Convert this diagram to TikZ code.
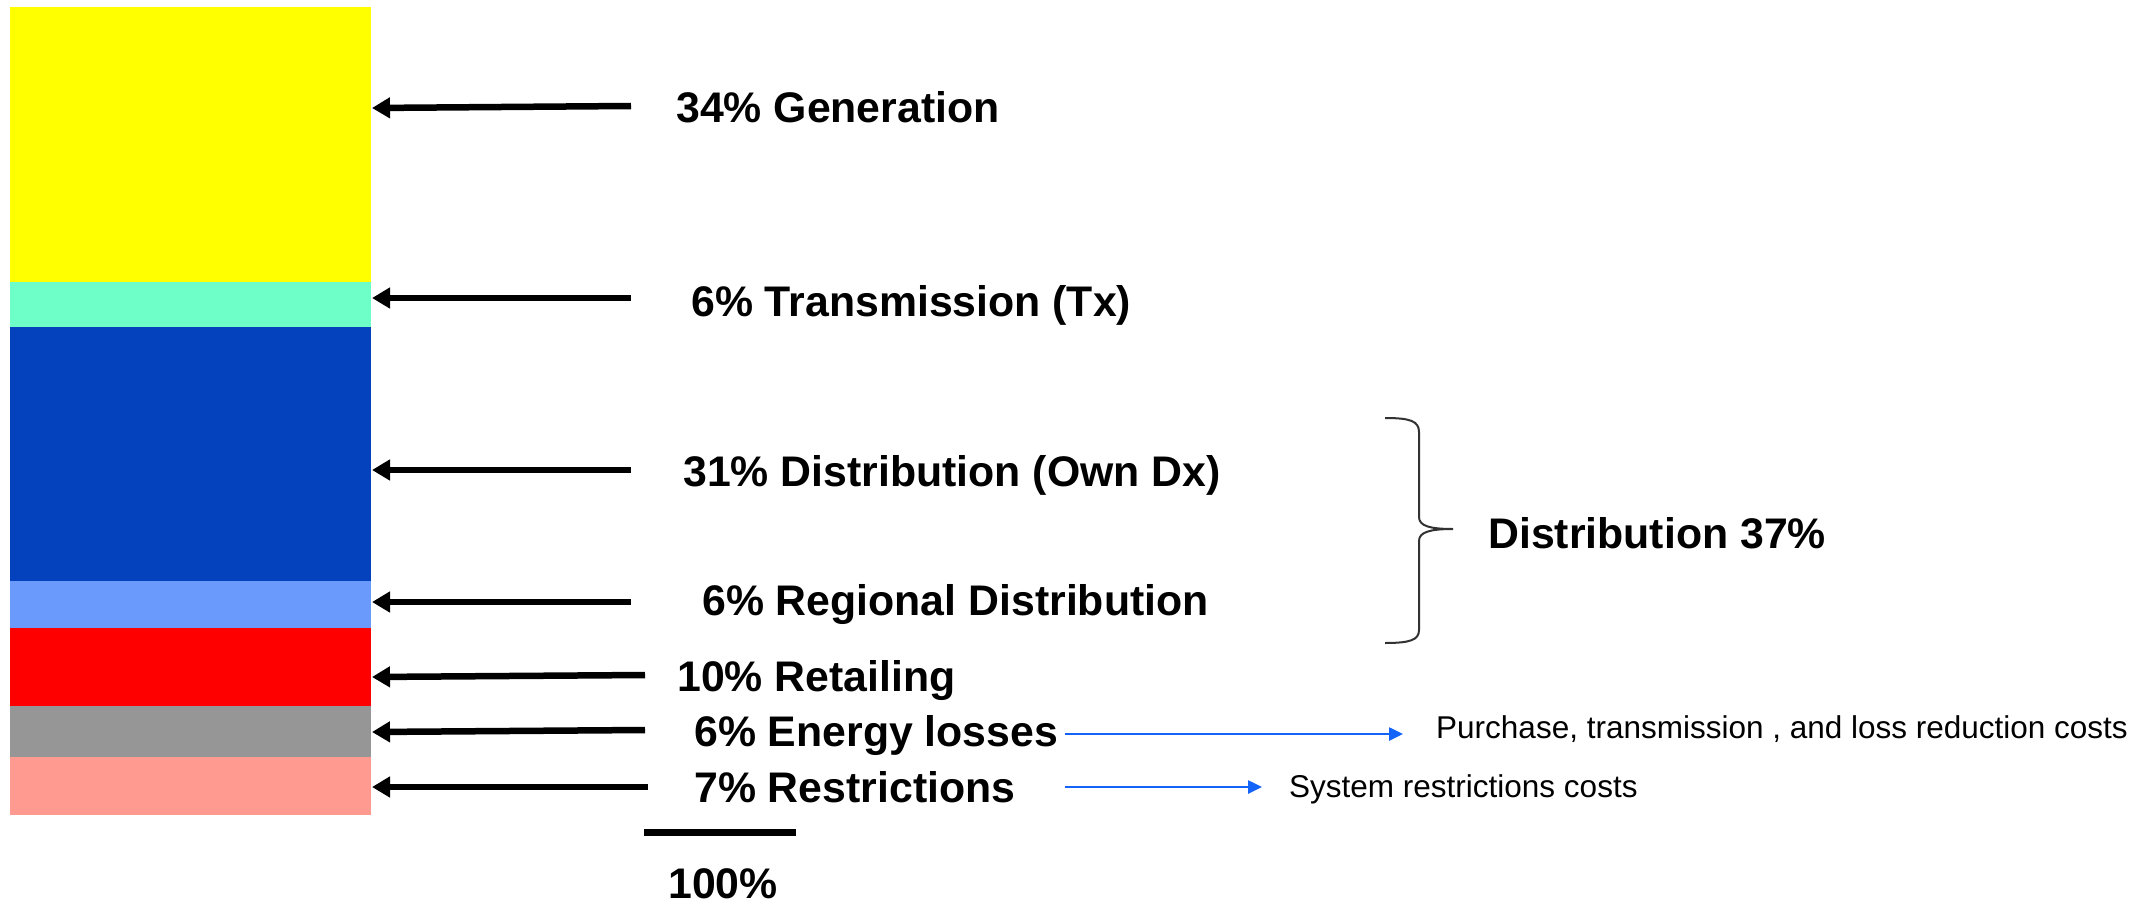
\documentclass[tikz,border=0pt]{standalone}
\usepackage{fontspec}
\setmainfont{Liberation Sans}
\usetikzlibrary{arrows.meta}
\definecolor{cgen}{RGB}{255,255,0}
\definecolor{ctx}{RGB}{110,255,200}
\definecolor{cdx}{RGB}{4,65,188}
\definecolor{creg}{RGB}{106,154,252}
\definecolor{cret}{RGB}{255,0,0}
\definecolor{closs}{RGB}{150,150,150}
\definecolor{cres}{RGB}{255,154,144}
\definecolor{cblue}{RGB}{20,100,250}
\definecolor{cbrace}{RGB}{50,50,50}
\begin{document}
\begin{tikzpicture}[x=1pt,y=-1pt,
  seg/.style={draw=none, inner sep=0pt, outer sep=0pt, minimum width=361pt, anchor=north west},
  big/.style={inner sep=0pt, anchor=base west, font=\fontsize{42.8}{50}\selectfont\bfseries},
  small/.style={inner sep=0pt, anchor=base west, font=\fontsize{31.5}{38}\selectfont},
  blk/.style={line width=6.5pt, -{Triangle[length=18pt,width=20pt]}},
  blu/.style={line width=2.5pt, draw=cblue, -{Triangle[length=14pt,width=13pt]}},
  brace/.style={line width=2pt, draw=cbrace}]
\useasboundingbox (0,0) rectangle (2154,904);
% bar segments
\node[seg, fill=cgen,  minimum height=275pt] (gen)  at (10,7) {};
\node[seg, fill=ctx,   minimum height=45pt]  (tx)   at (10,282) {};
\node[seg, fill=cdx,   minimum height=254pt] (dx)   at (10,327) {};
\node[seg, fill=creg,  minimum height=47pt]  (reg)  at (10,581) {};
\node[seg, fill=cret,  minimum height=78pt]  (ret)  at (10,628) {};
\node[seg, fill=closs, minimum height=51pt]  (loss) at (10,706) {};
\node[seg, fill=cres,  minimum height=58pt]  (res)  at (10,757) {};
% labels
\node[big] (lgen)  at (676,123) {34\% Generation};
\node[big] (ltx)   at (691,316) {6\% Transmission (Tx)};
\node[big] (ldx)   at (683,486) {31\% Distribution (Own Dx)};
\node[big] (lreg)  at (702,615) {6\% Regional Distribution};
\node[big] (lret)  at (677,691) {10\% Retailing};
\node[big] (lloss) at (694,746) {6\% Energy losses};
\node[big] (lres)  at (694,802) {7\% Restrictions};
\node[big] (ltot)  at (668,898) {100\%};
\node[big] (ldist) at (1488,548) {Distribution 37\%};
\node[small] (lpur) at (1436,738) {Purchase, transmission , and loss reduction costs};
\node[small] (lsys) at (1289,797) {System restrictions costs};
% arrow coordinates
\coordinate (tgen) at (631,106);  \coordinate (hgen) at (372,108);
\coordinate (ttx) at (631,298);   \coordinate (htx) at (372,298);
\coordinate (tdx) at (631,470);   \coordinate (hdx) at (372,470);
\coordinate (treg) at (631,602);  \coordinate (hreg) at (372,602);
\coordinate (tret) at (645,675);  \coordinate (hret) at (372,677);
\coordinate (tloss) at (645,730); \coordinate (hloss) at (372,732);
\coordinate (tres) at (648,787);  \coordinate (hres) at (372,787);
\draw[blk] (tgen) -- (hgen);
\draw[blk] (ttx) -- (htx);
\draw[blk] (tdx) -- (hdx);
\draw[blk] (treg) -- (hreg);
\draw[blk] (tret) -- (hret);
\draw[blk] (tloss) -- (hloss);
\draw[blk] (tres) -- (hres);
% blue arrows
\coordinate (bl1) at (1065,734); \coordinate (bl1e) at (1403,734);
\coordinate (bl2) at (1065,787); \coordinate (bl2e) at (1262,787);
\draw[blu] (bl1) -- (bl1e);
\draw[blu] (bl2) -- (bl2e);
% 100% bar
\coordinate (ta) at (644,832); \coordinate (tb) at (796,832);
\draw[line width=7pt] (ta) -- (tb);
% brace
\draw[brace] (1385,418) .. controls (1410,418) and (1419,421) .. (1419,432)
  -- (1419,517) .. controls (1419,526) and (1430,529) .. (1453,529)
  .. controls (1430,529) and (1419,532) .. (1419,541)
  -- (1419,630) .. controls (1419,640) and (1410,643) .. (1385,643);
\end{tikzpicture}
\end{document}
